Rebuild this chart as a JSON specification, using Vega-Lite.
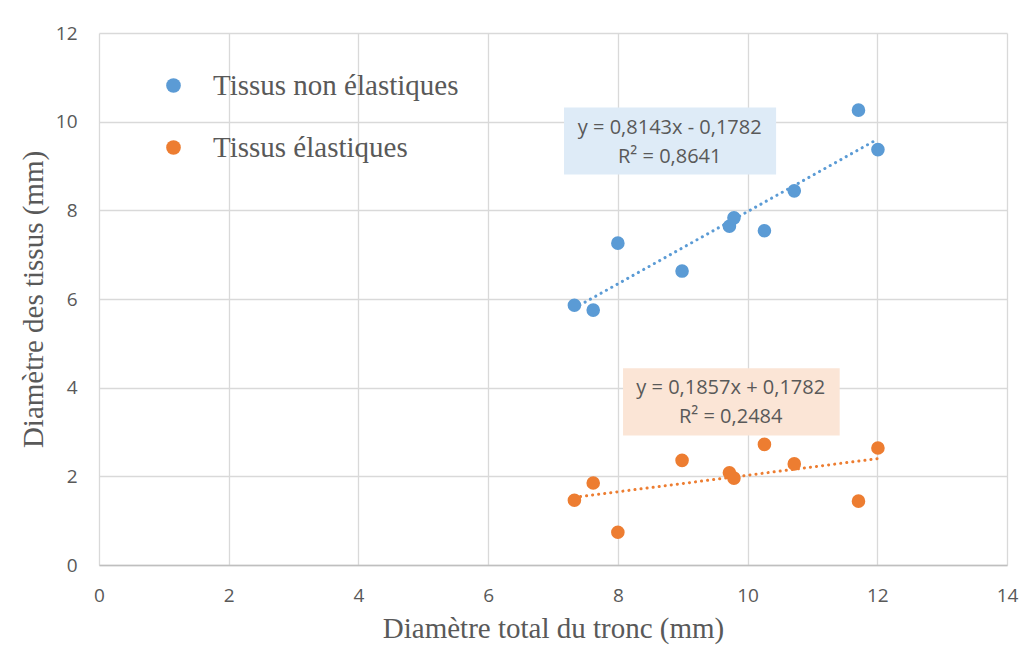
{
  "$schema": "https://vega.github.io/schema/vega-lite/v6.json",
  "width": 908,
  "height": 532,
  "autosize": "none",
  "padding": {"left": 99, "top": 33, "right": 15, "bottom": 80},
  "background": "white",
  "config": {
    "view": {"stroke": null},
    "axis": {
      "grid": true,
      "gridColor": "#d9d9d9",
      "gridWidth": 1.3,
      "ticks": false,
      "labelFont": "Open Sans",
      "labelFontSize": 19,
      "labelColor": "#595959",
      "titleFont": "Liberation Serif",
      "titleFontSize": 29,
      "titleFontWeight": "normal",
      "titleColor": "#595959"
    },
    "legend": {
      "orient": "none",
      "legendX": 60,
      "legendY": 38,
      "title": null,
      "labelFont": "Liberation Serif",
      "labelFontSize": 29,
      "labelColor": "#595959",
      "labelLimit": 500,
      "symbolSize": 215,
      "symbolType": "circle",
      "labelOffset": 25,
      "rowPadding": 32,
      "padding": 0
    }
  },
  "datasets": {
    "pts": [
      {"x": 7.33, "y": 5.86, "serie": "Tissus non élastiques"},
      {"x": 7.62, "y": 5.75, "serie": "Tissus non élastiques"},
      {"x": 8.0, "y": 7.26, "serie": "Tissus non élastiques"},
      {"x": 8.99, "y": 6.63, "serie": "Tissus non élastiques"},
      {"x": 9.72, "y": 7.64, "serie": "Tissus non élastiques"},
      {"x": 9.79, "y": 7.83, "serie": "Tissus non élastiques"},
      {"x": 10.26, "y": 7.54, "serie": "Tissus non élastiques"},
      {"x": 10.72, "y": 8.44, "serie": "Tissus non élastiques"},
      {"x": 11.71, "y": 10.26, "serie": "Tissus non élastiques"},
      {"x": 12.01, "y": 9.37, "serie": "Tissus non élastiques"},
      {"x": 7.33, "y": 1.46, "serie": "Tissus élastiques"},
      {"x": 7.62, "y": 1.85, "serie": "Tissus élastiques"},
      {"x": 8.0, "y": 0.74, "serie": "Tissus élastiques"},
      {"x": 8.99, "y": 2.36, "serie": "Tissus élastiques"},
      {"x": 9.72, "y": 2.08, "serie": "Tissus élastiques"},
      {"x": 9.79, "y": 1.96, "serie": "Tissus élastiques"},
      {"x": 10.26, "y": 2.72, "serie": "Tissus élastiques"},
      {"x": 10.72, "y": 2.28, "serie": "Tissus élastiques"},
      {"x": 11.71, "y": 1.44, "serie": "Tissus élastiques"},
      {"x": 12.01, "y": 2.64, "serie": "Tissus élastiques"}
    ],
    "boxes": [
      {"x": 7.17, "x2": 10.44, "y": 10.32, "y2": 8.81, "serie": "Tissus non élastiques"},
      {"x": 8.08, "x2": 11.42, "y": 4.44, "y2": 2.92, "serie": "Tissus élastiques"}
    ],
    "eqs": [
      {"x": 8.80, "y": 9.86, "label": "y = 0,8143x - 0,1782"},
      {"x": 8.80, "y": 9.21, "label": "R² = 0,8641"},
      {"x": 9.74, "y": 3.99, "label": "y = 0,1857x + 0,1782"},
      {"x": 9.74, "y": 3.34, "label": "R² = 0,2484"}
    ]
  },
  "layer": [
    {
      "data": {"name": "boxes"},
      "mark": {"type": "rect"},
      "encoding": {
        "x": {"field": "x", "type": "quantitative", "scale": {"domain": [0, 14]}, "axis": {"values": [0,2,4,6,8,10,12,14], "format": "d", "labelFlush": false, "title": "Diamètre total du tronc (mm)", "domain": true, "domainColor": "#bfbfbf", "domainWidth": 1.3, "labelPadding": 21, "titlePadding": 9}},
        "x2": {"field": "x2"},
        "y": {"field": "y", "type": "quantitative", "scale": {"domain": [0, 12]}, "axis": {"values": [0,2,4,6,8,10,12], "format": "d", "labelFlush": false, "title": "Diamètre des tissus (mm)", "domain": false, "labelPadding": 22, "titlePadding": 7}},
        "y2": {"field": "y2"},
        "fill": {"field": "serie", "type": "nominal", "scale": {"domain": ["Tissus non élastiques", "Tissus élastiques"], "range": ["#deebf7", "#fbe5d6"]}, "legend": null}
      }
    },
    {
      "data": {"name": "pts"},
      "transform": [{"filter": "datum.serie === 'Tissus non élastiques'"}, {"regression": "y", "on": "x"}],
      "mark": {"type": "line", "color": "#5b9bd5", "strokeWidth": 3, "strokeDash": [0.1, 6], "strokeCap": "round"},
      "encoding": {
        "x": {"field": "x", "type": "quantitative"},
        "y": {"field": "y", "type": "quantitative"}
      }
    },
    {
      "data": {"name": "pts"},
      "transform": [{"filter": "datum.serie === 'Tissus élastiques'"}, {"regression": "y", "on": "x"}],
      "mark": {"type": "line", "color": "#ed7d31", "strokeWidth": 3, "strokeDash": [0.1, 6], "strokeCap": "round"},
      "encoding": {
        "x": {"field": "x", "type": "quantitative"},
        "y": {"field": "y", "type": "quantitative"}
      }
    },
    {
      "data": {"name": "pts"},
      "mark": {"type": "circle", "size": 185, "opacity": 1},
      "encoding": {
        "x": {"field": "x", "type": "quantitative"},
        "y": {"field": "y", "type": "quantitative"},
        "color": {"field": "serie", "type": "nominal", "sort": null, "scale": {"domain": ["Tissus non élastiques", "Tissus élastiques"], "range": ["#5b9bd5", "#ed7d31"]}}
      }
    },
    {
      "data": {"name": "eqs"},
      "mark": {"type": "text", "font": "Open Sans", "fontSize": 20, "color": "#595959", "align": "center", "baseline": "middle"},
      "encoding": {
        "x": {"field": "x", "type": "quantitative"},
        "y": {"field": "y", "type": "quantitative"},
        "text": {"field": "label"}
      }
    }
  ],
  "resolve": {"scale": {"color": "independent", "fill": "independent"}}
}
